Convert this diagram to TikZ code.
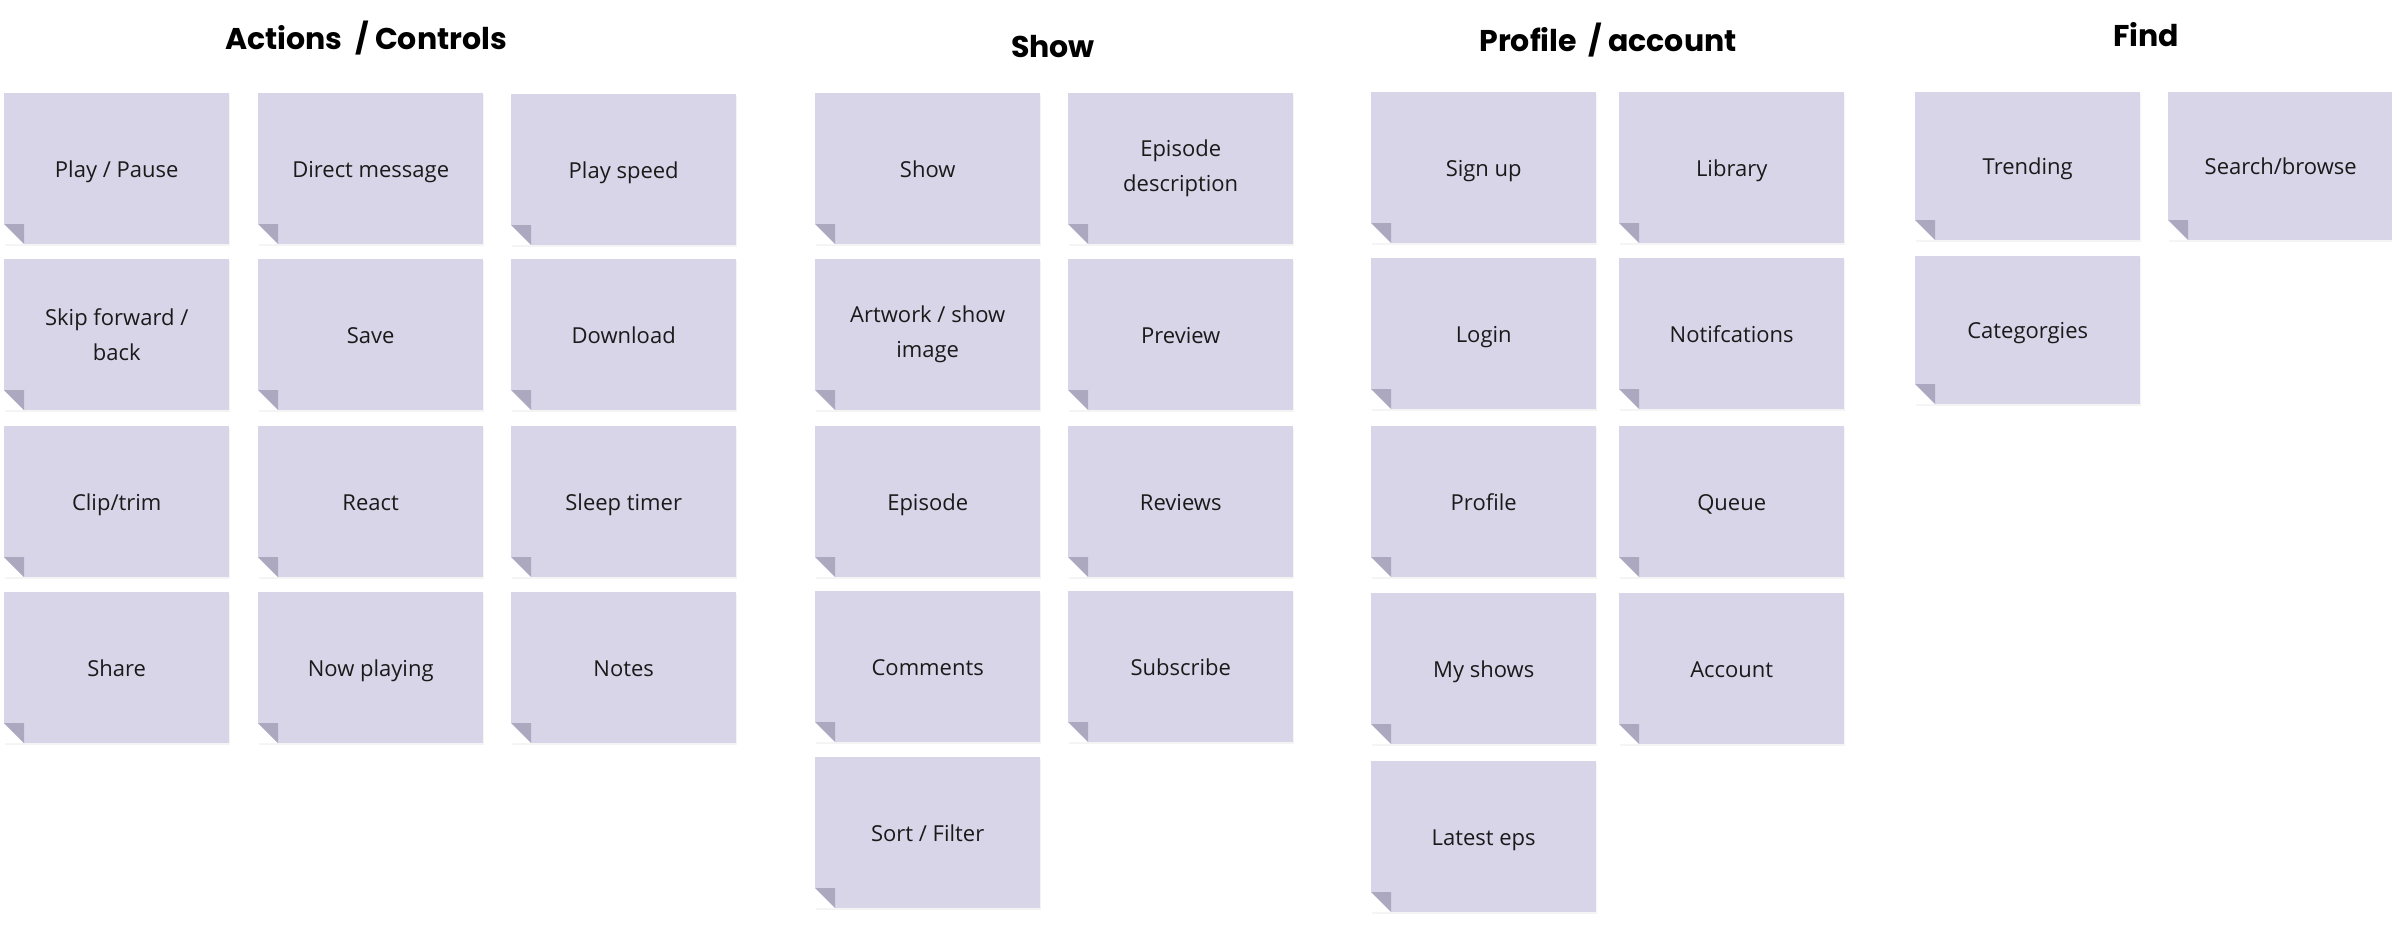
\documentclass[tikz,border=0pt]{standalone}
\usepackage{fontspec}
\setmainfont{Open Sans}
\newfontfamily\headfont{Poppins}
\usetikzlibrary{shadows}
\definecolor{notefill}{HTML}{D8D5E8}
\definecolor{foldc}{HTML}{ABA8BF}
\definecolor{txt}{HTML}{1A1A1A}
\newcommand\notestrut{\rule[-9pt]{0pt}{35pt}}
\tikzset{
 notebase/.style={rectangle, anchor=north west, fill=notefill, minimum width=225pt, minimum height=151pt, inner sep=0pt, align=center, text=txt, font=\fontsize{22}{35}\selectfont,
  general shadow={fill=black, opacity=0.045, shadow xshift=0.5pt, shadow yshift=-1.5pt},
  path picture={
   \fill[white] (path picture bounding box.south west) -- ++(20pt,0pt) -- ++(-20pt,20pt) -- cycle;
   \fill[foldc] (path picture bounding box.south west) ++(0pt,20pt) -- ++(20pt,0pt) -- ++(0pt,-20pt) -- cycle;
  }},
 sticky/.style={notebase, execute at begin node=\notestrut},
 twoline/.style={notebase},
 shortsticky/.style={sticky, minimum height=148pt},
 head/.style={anchor=base, font=\headfont\bfseries\fontsize{30}{36}\selectfont, text=black, inner sep=0pt}
}
\begin{document}
\begin{tikzpicture}[x=1pt,y=-1pt]
\fill[white] (0,0) rectangle (2392,925);
\useasboundingbox (0,0) rectangle (2392,925);
% headers
\node[head] (hactions) at (366,50) {Actions\ \ / Controls};
\node[head] (hshow) at (1053,58) {Show};
\node[head] (hprofile) at (1608,52) {Profile\,\ / account};
\node[head] (hfind) at (2146,47) {Find};
% Actions / Controls
\node[sticky] (playpause) at (4,93) {Play / Pause};
\node[twoline] (skip) at (4,259) {Skip forward /\\back};
\node[sticky] (clip) at (4,426) {Clip/trim};
\node[sticky] (share) at (4,592) {Share};
\node[sticky] (dm) at (258,93) {Direct message};
\node[sticky] (save) at (258,259) {Save};
\node[sticky] (react) at (258,426) {React};
\node[sticky] (nowplaying) at (258,592) {Now playing};
\node[sticky] (playspeed) at (511,94) {Play speed};
\node[sticky] (download) at (511,259) {Download};
\node[sticky] (sleep) at (511,426) {Sleep timer};
\node[sticky] (notes) at (511,592) {Notes};
% Show
\node[sticky] (show) at (815,93) {Show};
\node[twoline] (artwork) at (815,259) {Artwork / show\\image};
\node[sticky] (episode) at (815,426) {Episode};
\node[sticky] (comments) at (815,591) {Comments};
\node[sticky] (sort) at (815,757) {Sort / Filter};
\node[twoline] (epdesc) at (1068,93) {Episode\\description};
\node[sticky] (preview) at (1068,259) {Preview};
\node[sticky] (reviews) at (1068,426) {Reviews};
\node[sticky] (subscribe) at (1068,591) {Subscribe};
% Profile / account
\node[sticky] (signup) at (1371,92) {Sign up};
\node[sticky] (login) at (1371,258) {Login};
\node[sticky] (profile) at (1371,426) {Profile};
\node[sticky] (myshows) at (1371,593) {My shows};
\node[sticky] (latest) at (1371,761) {Latest eps};
\node[sticky] (library) at (1619,92) {Library};
\node[sticky] (notif) at (1619,258) {Notifcations};
\node[sticky] (queue) at (1619,426) {Queue};
\node[sticky] (account) at (1619,593) {Account};
% Find
\node[shortsticky] (trending) at (1915,92) {Trending};
\node[shortsticky] (categories) at (1915,256) {Categorgies};
\node[shortsticky] (search) at (2168,92) {Search/browse};
\end{tikzpicture}
\end{document}
